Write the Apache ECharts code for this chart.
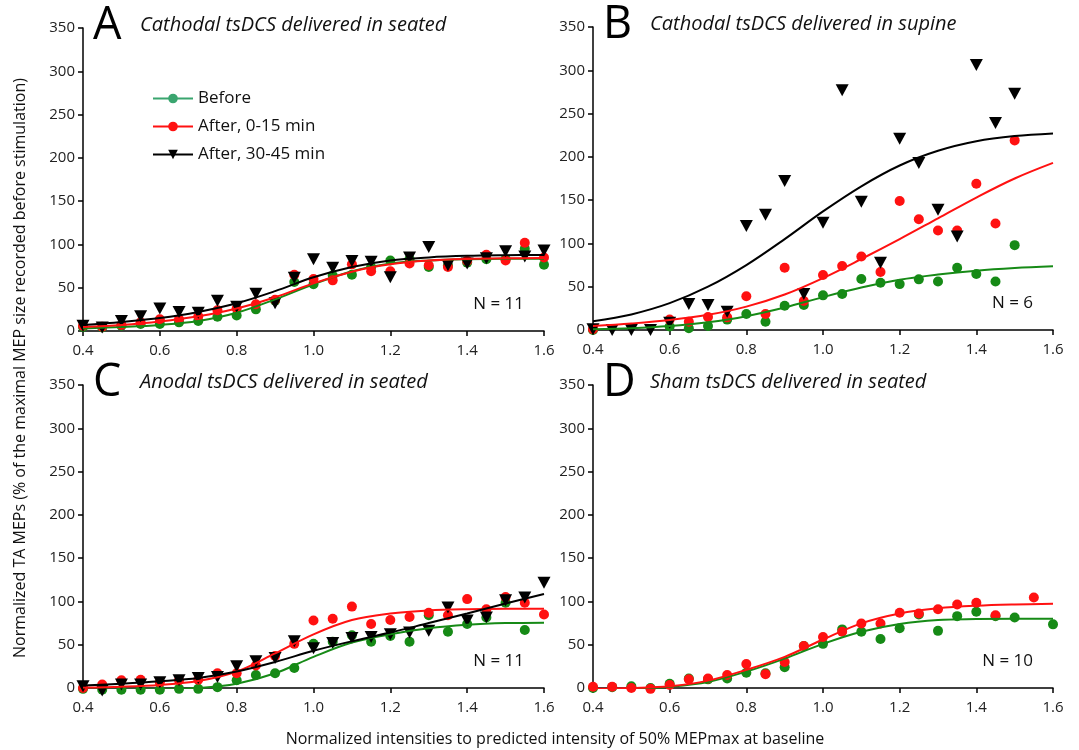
<!DOCTYPE html>
<html>
<head>
<meta charset="UTF-8">
<title>TA MEP recruitment curves</title>
<style>
    html, body { margin: 0; padding: 0; background: #fff; }
    #container { width: 1079px; height: 750px; }
</style>
</head>
<body>
<div id="container"></div>
<script src="https://cdn.jsdelivr.net/npm/echarts@6/dist/echarts.min.js"></script>
<script>
// stimulation intensities (normalized), one point every 0.05
var xs = [0.4, 0.45, 0.5, 0.55, 0.6, 0.65, 0.7, 0.75, 0.8, 0.85, 0.9, 0.95, 1.0,
          1.05, 1.1, 1.15, 1.2, 1.25, 1.3, 1.35, 1.4, 1.45, 1.5, 1.55, 1.6];
var fitXs = [0.4, 0.5, 0.6, 0.7, 0.8, 0.9, 1.0, 1.1, 1.2, 1.3, 1.4, 1.5, 1.6];
var xTicks = ['0.4', '0.6', '0.8', '1.0', '1.2', '1.4', '1.6'];

// A - cathodal, seated
var aBefore   = [4.6, 4, 6, 8, 8, 10, 11.5, 16.5, 18, 25, 35, 56.5, 54, 64, 65, 74, 81.5, 83, 74, 76, 79, 83, 83, 95, 76.5];
var aAfter015 = [6, 5, 7, 10, 13.5, 13.5, 17, 24, 26, 31, 36, 65, 60, 58.5, 77, 69, 69, 78, 76, 74, 81, 88, 81.5, 102, 85];
var aAfter3045 = [6, 4, 11.5, 17, 26, 22, 21, 35, 28, 43, 32, 61.5, 83, 73, 81, 80, 62, 85, 97, 76, 78, 84, 92, 86, 93];
var aBeforeFit   = [3, 4.6, 7, 11.5, 21, 36.5, 54, 69, 78, 81.5, 83, 83.5, 83.5];
var aAfter015Fit = [4.5, 7, 11, 17, 26, 39, 55, 68.5, 77, 81.3, 83.2, 84, 84.3];
var aAfter3045Fit = [7, 10.5, 15, 22, 32, 46, 62, 74, 81.5, 85, 86.8, 87.5, 87.8];

// B - cathodal, supine
var bBefore   = [0, null, null, null, 4, 2, 4.6, 12, 18.5, 9.6, 28, 29, 40, 41.5, 59, 54.6, 53, 58.5, 56, 72, 64.6, 56, 98, null, null];
var bAfter015 = [1, null, null, null, 12, 9.6, 15, 14.6, 39, 18.5, 72, 33.5, 63.5, 74, 85, 67, 149, 128, 115, 115, 169, 123, 219, null, null];
var bAfter3045 = [1, 0, 0, 0, 8.5, 30, 29, 21, 120, 133, 172, 41.5, 124, 277, 148, 77.7, 221, 193, 139, 108, 306, 239, 273, null, null];
var bBeforeFit   = [1, 2, 4.5, 9, 16, 26, 38, 49, 58, 64, 68.5, 71.5, 73.5];
var bAfter015Fit = [4.5, 7.5, 11.5, 17.5, 27, 41, 60, 82, 105, 129, 153, 175, 193];
var bAfter3045Fit = [10, 18, 31, 50, 75, 105, 137, 166, 190, 207, 218, 224, 227];

// C - anodal, seated
var cBefore   = [-1, -2, -2, -2, -2, -1, -1, 1, 9, 15, 17, 23, 51, 53.5, 61, 53.5, 60, 53.5, 84, 65, 74, 81.5, 98.5, 67, null];
var cAfter015 = [0, 4, 9, 9.6, 6.5, 9, 9.6, 17, 17, 26, 37, 51, 78, 80, 94, 74, 78.5, 82, 87, 84, 102.7, 91, 105, 98.5, 85];
var cAfter3045 = [2, -3, 4, 4, 6.5, 9, 11.5, 12.7, 25, 31, 34.6, 54, 46, 52, 57.7, 59, 62, 64, 66, 93, 78, 81.5, 101.5, 104.6, 121.5];
var cBeforeFit   = [-2, -2, -1.5, 0, 5, 17, 36, 52.5, 62, 69, 73, 75, 75.5];
var cAfter015Fit = [0.5, 1.5, 3.5, 8, 19, 40, 62, 78.5, 86, 89.6, 91, 91.5, 91.5];
var cAfter3045Fit = [3, 5, 7.7, 11.5, 19, 30, 43, 54, 64, 75, 86, 97.5, 108.5];

// D - sham, seated
var dBefore   = [0, 1, 2, 0, 5, 11, 10, 11, 17.7, 17, 24, 48.5, 51, 67.7, 65, 56.5, 69, 85, 66, 83, 88, 83, 81.5, null, 73.5];
var dAfter015 = [1.5, 1.5, 0, -1, 3.5, 10, 11, 15, 27.7, 16, 30, 48.5, 59, 65, 74.6, 74.6, 87, 86, 91, 96.5, 98.5, 84, null, 104.6, null];
var dBeforeFit   = [-1.5, -1, 1.5, 7, 19, 34, 51, 65, 74, 78.5, 79.6, 80, 80];
var dAfter015Fit = [-1, 0, 2, 8.5, 21, 36, 56, 74.6, 86, 92, 95, 96.5, 97.3];

var groupNames = ['Before', 'After, 0-15 min', 'After, 30-45 min'];
var panelLetters = ['A', 'B', 'C', 'D'];
var panelTitles = ['Cathodal tsDCS delivered in seated', 'Cathodal tsDCS delivered in supine',
                   'Anodal tsDCS delivered in seated', 'Sham tsDCS delivered in seated'];
var panelN = ['N = 11', 'N = 6', 'N = 11', 'N = 10'];

var GREEN = '#168a16', RED = '#ff1111', BLACK = '#000000';
var FONT = '"Open Sans", "DejaVu Sans", sans-serif';

function pairs(xv, yv) {
    var out = [];
    for (var i = 0; i < yv.length; i++) {
        if (yv[i] !== null) out.push([xv[i], yv[i]]);
    }
    return out;
}

var panels = [
    { pts: [aBefore, aAfter015, aAfter3045], fits: [aBeforeFit, aAfter015Fit, aAfter3045Fit] },
    { pts: [bBefore, bAfter015, bAfter3045], fits: [bBeforeFit, bAfter015Fit, bAfter3045Fit] },
    { pts: [cBefore, cAfter015, cAfter3045], fits: [cBeforeFit, cAfter015Fit, cAfter3045Fit] },
    { pts: [dBefore, dAfter015], fits: [dBeforeFit, dAfter015Fit] }
];
var gridBoxes = [
    { left: 83, top: 28, width: 461, height: 303 },
    { left: 593, top: 27, width: 460, height: 303 },
    { left: 83, top: 385, width: 461, height: 303 },
    { left: 593, top: 385, width: 460, height: 303 }
];
var colors = [GREEN, RED, BLACK];

var grids = [], xAxes = [], yAxes = [], series = [];
gridBoxes.forEach(function (g, i) {
    grids.push(g);
    xAxes.push({
        type: 'value', gridIndex: i, min: 0.4, max: 1.6, interval: 0.2,
        axisLine: { lineStyle: { color: '#000', width: 1.5 } },
        axisTick: { length: 5, lineStyle: { color: '#000', width: 1.5 } },
        splitLine: { show: false },
        axisLabel: {
            margin: 12, fontSize: 15, color: '#222', fontFamily: FONT,
            formatter: function (v) {
                var s = v.toFixed(1);
                return xTicks.indexOf(s) >= 0 ? s : '';
            }
        }
    });
    yAxes.push({
        type: 'value', gridIndex: i, min: 0, max: 350, interval: 50,
        axisLine: { show: true, lineStyle: { color: '#000', width: 1.5 } },
        axisTick: { show: true, length: 5, lineStyle: { color: '#000', width: 1.5 } },
        splitLine: { show: false },
        axisLabel: { margin: 8, fontSize: 15, color: '#222', fontFamily: FONT }
    });
});

// fitted curves first so the legend picks up the line icon
panels.forEach(function (p, i) {
    p.fits.forEach(function (f, k) {
        series.push({
            name: groupNames[k], type: 'line', xAxisIndex: i, yAxisIndex: i,
            data: pairs(fitXs, f), smooth: 0.35, showSymbol: false,
            symbol: k === 2 ? 'triangle' : 'circle', symbolRotate: k === 2 ? 180 : 0,
            lineStyle: { color: colors[k], width: 2 }, itemStyle: { color: colors[k] },
            z: 4, silent: true
        });
    });
});
panels.forEach(function (p, i) {
    p.pts.forEach(function (v, k) {
        series.push({
            name: groupNames[k], type: 'scatter', xAxisIndex: i, yAxisIndex: i,
            data: pairs(xs, v), clip: false,
            symbol: k === 2 ? 'triangle' : 'circle',
            symbolRotate: k === 2 ? 180 : 0,
            symbolSize: k === 2 ? [13, 12] : 10,
            itemStyle: { color: colors[k], opacity: 1 },
            z: 2 + k * 0.1
        });
    });
});

var texts = [];
gridBoxes.forEach(function (g, i) {
    texts.push({ type: 'text', x: g.left + 10, y: g.top - 2,
        style: { text: panelLetters[i], fontSize: 45, fontFamily: FONT, fill: '#000', verticalAlign: 'middle' } });
    texts.push({ type: 'text', x: g.left + 57, y: g.top - 3,
        style: { text: panelTitles[i], fontSize: 20, fontStyle: 'italic', fontFamily: FONT, fill: '#111', verticalAlign: 'middle' } });
    texts.push({ type: 'text', x: g.left + g.width - 20, y: g.top + 276,
        style: { text: panelN[i], fontSize: 17, fontFamily: FONT, fill: '#111', align: 'right', verticalAlign: 'middle' } });
});
texts.push({ type: 'text', x: 20, y: 368, rotation: Math.PI / 2,
    style: { text: 'Normalized TA MEPs (% of the maximal MEP size recorded before stimulation)',
        fontSize: 16, fontFamily: FONT, fill: '#111', align: 'center', verticalAlign: 'middle' } });
texts.push({ type: 'text', x: 555, y: 739,
    style: { text: 'Normalized intensities to predicted intensity of 50% MEPmax at baseline',
        fontSize: 16, fontFamily: FONT, fill: '#111', align: 'center', verticalAlign: 'middle' } });

var myChart = echarts.init(document.getElementById('container'));
myChart.setOption({
    animation: false,
    backgroundColor: '#fff',
    grid: grids,
    xAxis: xAxes,
    yAxis: yAxes,
    legend: {
        left: 147, top: 85, orient: 'vertical', selectedMode: false,
        itemWidth: 40, itemHeight: 12, itemGap: 11,
        textStyle: { fontSize: 17, fontFamily: FONT, color: '#111' },
        data: [
            { name: 'Before', itemStyle: { color: '#3aa56f' }, lineStyle: { color: '#3aa56f', width: 2 } },
            { name: 'After, 0-15 min', itemStyle: { color: RED }, lineStyle: { color: RED, width: 2 } },
            { name: 'After, 30-45 min', itemStyle: { color: BLACK }, lineStyle: { color: BLACK, width: 2 } }
        ]
    },
    graphic: texts,
    series: series
});
</script>
</body>
</html>
